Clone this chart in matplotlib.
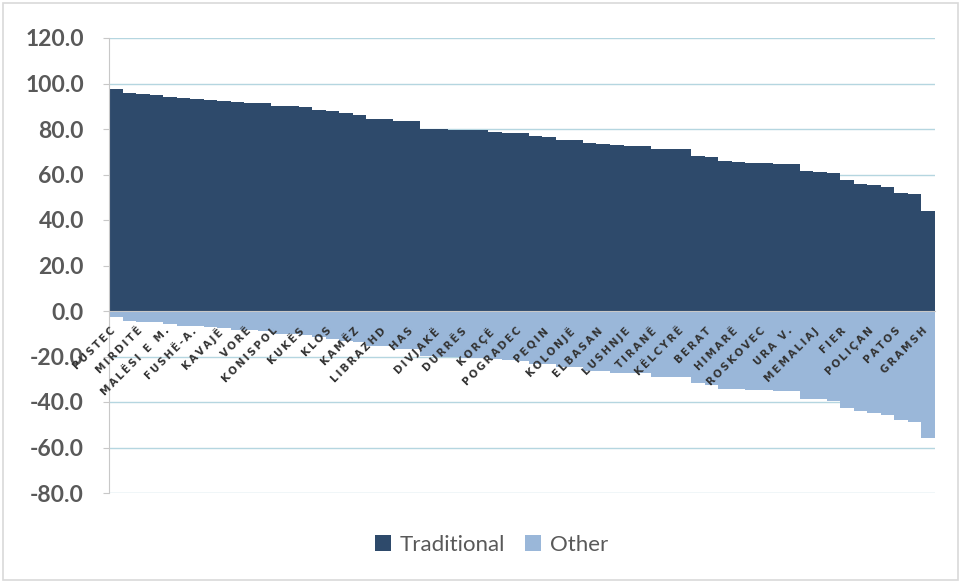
import matplotlib
matplotlib.use("Agg")
import matplotlib.pyplot as plt
from matplotlib.patches import Patch, Rectangle
from matplotlib.ticker import FixedLocator, FuncFormatter

# Share of traditional vs. other, by municipality (sorted by traditional share)
traditional = [97.4, 95.7, 95.2, 95.1, 94.1, 93.5, 93.4, 92.9, 92.4, 91.7,
               91.6, 91.3, 90.1, 90.0, 89.5, 88.5, 87.8, 86.9, 86.2, 84.5,
               84.4, 83.4, 83.3, 80.1, 80.0, 79.6, 79.5, 79.5, 78.8, 78.4,
               78.1, 76.8, 76.7, 75.3, 75.2, 73.7, 73.6, 72.8, 72.7, 72.7,
               71.1, 71.0, 71.0, 68.3, 67.5, 65.8, 65.7, 65.2, 65.1, 64.8,
               64.7, 61.4, 61.3, 60.5, 57.4, 56.0, 55.2, 54.5, 52.0, 51.3,
               44.0]
other = [-2.6, -4.3, -4.8, -4.9, -5.9, -6.5, -6.6, -7.1, -7.6, -8.3,
         -8.4, -8.7, -9.9, -10.0, -10.5, -11.5, -12.2, -13.1, -13.8, -15.5,
         -15.6, -16.6, -16.7, -19.9, -20.0, -20.4, -20.5, -20.5, -21.2, -21.6,
         -21.9, -23.2, -23.3, -24.7, -24.8, -26.3, -26.4, -27.2, -27.3, -27.3,
         -28.9, -29.0, -29.0, -31.7, -32.5, -34.2, -34.3, -34.8, -34.9, -35.2,
         -35.3, -38.6, -38.7, -39.5, -42.6, -44.0, -44.8, -45.5, -48.0, -48.7,
         -56.0]
# Category labels shown on every other bar
shown_labels = ["PUSTEC", "MIRDITË", "MALËSI E M.", "FUSHË-A.", "KAVAJË", "VORË",
                "KONISPOL", "KUKËS", "KLOS", "KAMËZ", "LIBRAZHD", "HAS",
                "DIVJAKË", "DURRËS", "KORÇË", "POGRADEC", "PEQIN", "KOLONJË",
                "ELBASAN", "LUSHNJE", "TIRANË", "KËLCYRË", "BERAT", "HIMARË",
                "ROSKOVEC", "URA V.", "MEMALIAJ", "FIER", "POLIÇAN", "PATOS",
                "GRAMSH"]
y_ticks = [-80, -60, -40, -20, 0, 20, 40, 60, 80, 100, 120]

c_trad = "#2E4A6B"
c_other = "#9AB7D9"
grid_c = "#B5D6E0"
axis_c = "#C8C8C8"
text_c = "#595959"

W, H = 962, 582
fig = plt.figure(figsize=(W / 100, H / 100), dpi=100)
fig.patch.set_facecolor("white")
fig.add_artist(Rectangle((3 / W, 2 / H), (W - 7) / W, (H - 5) / H,
                         transform=fig.transFigure, fill=False,
                         edgecolor="#D9D9D9", linewidth=1.2))

ax = fig.add_axes([109 / W, 1 - 493 / H, (935 - 109) / W, (493 - 38) / H])
x = list(range(len(traditional)))
ax.bar(x, traditional, width=1.0, color=c_trad, edgecolor="none", zorder=2)
ax.bar(x, other, width=1.0, color=c_other, edgecolor="none", zorder=2)

ax.set_xlim(-0.5, len(traditional) - 0.5)
ax.set_ylim(-80, 120)
ax.set_yticks(y_ticks)
ax.yaxis.set_major_formatter(FuncFormatter(lambda v, p: f"{v:.1f}"))
ax.grid(axis="y", color=grid_c, linewidth=1.0, zorder=0)
ax.set_axisbelow(True)

for s in ["top", "right"]:
    ax.spines[s].set_visible(False)
ax.spines["left"].set_color(axis_c)
ax.spines["bottom"].set_position(("data", 0))
ax.spines["bottom"].set_color(axis_c)
ax.spines["bottom"].set_zorder(3)

ax.tick_params(axis="y", length=4, color=axis_c, labelsize=16.5,
               labelcolor=text_c, pad=14)
for lbl in ax.get_yticklabels():
    lbl.set_fontweight("bold")
    lbl.set_fontfamily("Lato")

# boundary tick marks along the zero line
ax.xaxis.set_minor_locator(FixedLocator([i + 0.5 for i in range(len(traditional) - 1)]))
ax.tick_params(axis="x", which="minor", length=4, color=axis_c, direction="out")
ax.set_xticks([])

# category labels drawn over the bars, every other bar
label_pos = list(range(0, len(traditional), 2))
for pos, name in zip(label_pos, shown_labels):
    ax.text(pos + 0.1, -6.5, "\u2009".join(name), rotation=45, ha="right",
            va="top", fontsize=7.4, fontweight="bold", color="#333333",
            family="DejaVu Sans", zorder=6)

handles = [Patch(facecolor=c_trad, edgecolor="none"),
           Patch(facecolor=c_other, edgecolor="none")]
leg = fig.legend(handles, ["Traditional", "Other"], loc="center",
                 bbox_to_anchor=(0.511, 1 - 545 / H), ncol=2, frameon=False,
                 handlelength=0.7, handleheight=0.7, handletextpad=0.4,
                 columnspacing=0.9, prop={"family": "Lato", "size": 16})
for t in leg.get_texts():
    t.set_color(text_c)

fig.savefig("out.png", dpi=100, facecolor="white")
